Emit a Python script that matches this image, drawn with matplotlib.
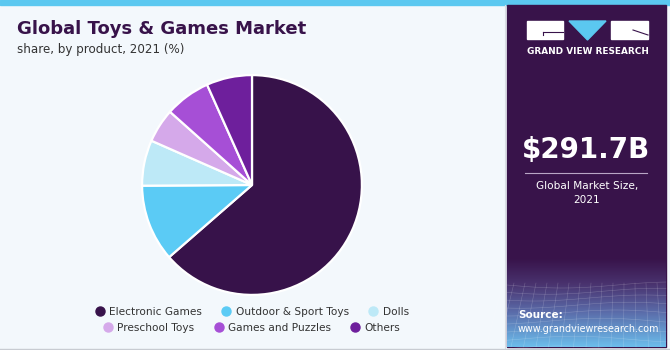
import matplotlib
matplotlib.use("Agg")
import matplotlib.pyplot as plt
import numpy as np
from matplotlib.patches import Rectangle, Polygon
from matplotlib.colors import LinearSegmentedColormap
from matplotlib.lines import Line2D

# data
products = ["Electronic Games", "Outdoor & Sport Toys", "Dolls",
            "Preschool Toys", "Games and Puzzles", "Others"]
shares = [63.6, 11.3, 6.7, 5.0, 6.7, 6.7]
colors = ["#37124a", "#5bcbf5", "#bde9f7", "#d5a9ea", "#a64fd6", "#6e1f9c"]

title = "Global Toys & Games Market"
subtitle = "share, by product, 2021 (%)"
market_size = "$291.7B"
market_label = "Global Market Size,\n2021"

W, H = 670, 350
purple = "#38134a"

fig = plt.figure(figsize=(W / 100, H / 100), dpi=100)
fig.patch.set_facecolor("#f3f8fc")

# background canvas in pixel coords
bg = fig.add_axes([0, 0, 1, 1])
bg.set_xlim(0, W)
bg.set_ylim(H, 0)
bg.axis("off")

bg.add_patch(Rectangle((0, 0), W, 5, color="#5bc8f0", zorder=1))
bg.add_patch(Rectangle((507, 5), 159, 342, color=purple, zorder=1))
bg.plot([505, 505], [5, 350], color="#d8dde3", lw=0.8, zorder=1)
bg.plot([0, W], [348.5, 348.5], color="#c8ccd2", lw=1, zorder=1)

# gradient + wireframe at the bottom of the side panel
grad = np.linspace(0, 1, 100).reshape(-1, 1)
cmap = LinearSegmentedColormap.from_list(
    "g", [(0, purple), (0.3, "#4a3470"), (0.6, "#5a6aa8"), (1, "#6cbceb")])
bg.imshow(grad, aspect="auto", cmap=cmap, extent=(507, 666, 347, 258), zorder=2)
xs = np.linspace(507, 666, 60)
for k in range(11):
    yy = 285 + k * 6 + k * k * 0.25
    bg.plot(xs, yy + 3 * np.sin((xs - 507) / 35 + k * 0.4), color="white",
            lw=0.4, alpha=0.22, zorder=3)
for k in range(16):
    x0 = 500 + k * 11
    bg.plot([x0 + 3, x0 - 2 + (k - 8) * 1.5], [283, 347], color="white",
            lw=0.4, alpha=0.22, zorder=3)

# logo
bg.add_patch(Rectangle((527, 21), 36, 18, color="white", zorder=4))
bg.plot([543, 563], [32, 32], color=purple, lw=0.8, zorder=5)
bg.plot([543, 543], [32, 35], color=purple, lw=0.8, zorder=5)
bg.add_patch(Polygon([(569, 21), (606, 21), (587.5, 40)], color="#5bc8f0", zorder=4))
bg.add_patch(Rectangle((611, 21), 37, 18, color="white", zorder=4))
bg.plot([633, 648], [30, 35], color=purple, lw=0.8, zorder=5)
bg.text(587.5, 52, "GRAND VIEW RESEARCH", color="white", fontsize=6.4,
        fontweight="bold", ha="center", va="center", zorder=5)

# market size
bg.text(586, 150, market_size, color="white", fontsize=20, fontweight="bold",
        ha="center", va="center", zorder=5)
bg.plot([525, 647], [173, 173], color="#b9a6c6", lw=0.8, zorder=5)
bg.text(587, 193, market_label, color="white", fontsize=7.6, ha="center",
        va="center", linespacing=1.45, zorder=5)

# source
bg.text(518, 315, "Source:", color="white", fontsize=7.5, fontweight="bold",
        va="center", zorder=5)
bg.text(518, 329, "www.grandviewresearch.com", color="white", fontsize=6.9,
        va="center", zorder=5)

# titles
bg.text(17, 29, title, color=purple, fontsize=13, fontweight="heavy",
        va="center", zorder=5)
bg.text(17, 50, subtitle, color="#333333", fontsize=8.6, va="center", zorder=5)

# pie
cx, cy, r = 252, 185, 111
pax = fig.add_axes([(cx - r) / W, (H - cy - r) / H, 2 * r / W, 2 * r / H])
pax.pie(shares, colors=colors, startangle=90, counterclock=False,
        wedgeprops=dict(edgecolor="white", linewidth=1.6))
pax.set_xlim(-1.01, 1.01)
pax.set_ylim(-1.01, 1.01)
pax.set_aspect("equal")

# legend in two centered rows
handles = [Line2D([], [], marker="o", ls="", color=c, markersize=6.5) for c in colors]
for row, y in enumerate([312, 328]):
    sl = slice(row * 3, row * 3 + 3)
    fig.legend(handles[sl], products[sl], ncol=3, loc="center",
               bbox_to_anchor=(252 / W, 1 - y / H), frameon=False,
               fontsize=7.6, handlelength=0.8, handletextpad=0.5,
               columnspacing=1.9, labelcolor="#333333")

fig.savefig("out.png", dpi=100, facecolor=fig.get_facecolor())
